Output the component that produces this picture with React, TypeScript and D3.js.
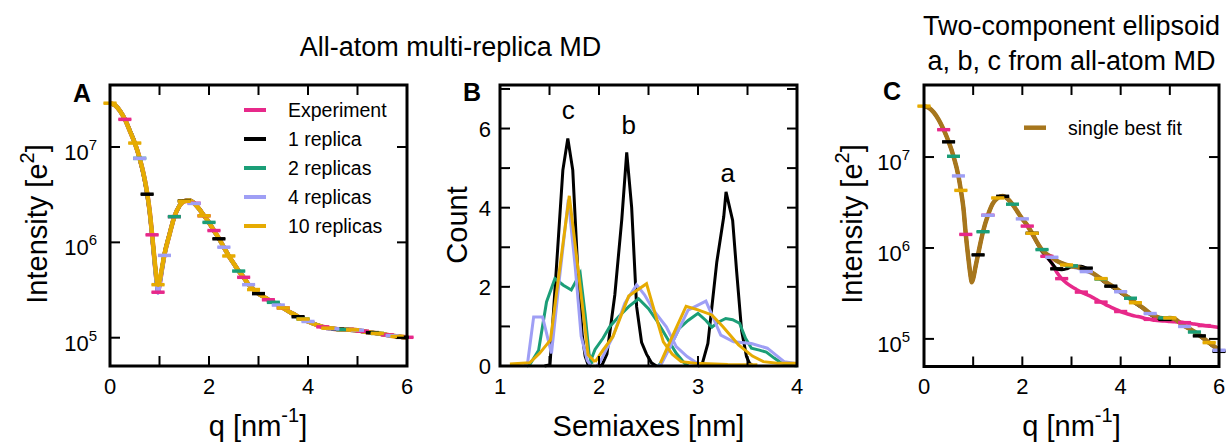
import React from "react";
import * as d3 from "d3";

// ---------- DATA ----------
const qGrid = [0, 0.1, 0.2, 0.3, 0.4, 0.5, 0.6, 0.7, 0.75, 0.8, 0.85, 0.9, 0.95, 0.97, 1.0, 1.05, 1.1, 1.2, 1.3, 1.4, 1.5, 1.6, 1.7, 1.8, 1.9, 2.0,
  2.1, 2.2, 2.3, 2.4, 2.5, 2.6, 2.7, 2.8, 2.9, 3.0, 3.1, 3.2, 3.3, 3.4, 3.5, 3.6, 3.7, 3.8, 3.9, 4.0,
  4.1, 4.2, 4.3, 4.4, 4.5, 4.6, 4.7, 4.8, 4.9, 5.0, 5.1, 5.2, 5.3, 5.4, 5.5, 5.6, 5.7, 5.8, 5.9, 6.0];

// Panel A: intensities
const expA = [2.88e7, 2.75e7, 2.40e7, 1.95e7, 1.48e7, 1.10e7, 7.6e6, 4.6e6, 3.3e6, 2.14e6, 1.2e6, 6.3e5, 3.55e5, 3.0e5, 3.55e5, 5.2e5, 7.4e5, 1.2e6, 1.86e6, 2.4e6, 2.7e6, 2.75e6, 2.57e6, 2.24e6, 1.9e6, 1.62e6,
  1.33e6, 1.10e6, 8.9e5, 7.2e5, 6.0e5, 5.0e5, 4.3e5, 3.6e5, 3.2e5, 2.9e5,
  2.7e5, 2.5e5, 2.35e5, 2.2e5, 2.05e5, 1.9e5, 1.78e5, 1.66e5, 1.57e5, 1.48e5,
  1.41e5, 1.35e5, 1.30e5, 1.26e5, 1.24e5, 1.23e5, 1.22e5, 1.22e5, 1.21e5, 1.20e5,
  1.17e5, 1.15e5, 1.13e5, 1.11e5, 1.09e5, 1.07e5, 1.05e5, 1.03e5, 1.02e5, 1.01e5];
const rep1A = [2.86e7, 2.74e7, 2.41e7, 1.96e7, 1.49e7, 1.11e7, 7.5e6, 4.5e6, 3.2e6, 2.1e6, 1.18e6, 6.4e5, 3.7e5, 3.2e5, 3.7e5, 5.3e5, 7.5e5, 1.21e6, 1.85e6, 2.4e6, 2.72e6, 2.76e6, 2.58e6, 2.25e6, 1.9e6, 1.61e6,
  1.32e6, 1.09e6, 8.9e5, 7.2e5, 6.0e5, 5.0e5, 4.3e5, 3.6e5, 3.2e5, 2.9e5,
  2.7e5, 2.5e5, 2.35e5, 2.2e5, 2.05e5, 1.9e5, 1.78e5, 1.66e5, 1.57e5, 1.48e5,
  1.41e5, 1.35e5, 1.30e5, 1.26e5, 1.24e5, 1.23e5, 1.22e5, 1.21e5, 1.20e5, 1.19e5,
  1.17e5, 1.15e5, 1.13e5, 1.11e5, 1.09e5, 1.07e5, 1.05e5, 1.03e5, 1.01e5, 1.0e5];
const rep2A = [2.87e7, 2.75e7, 2.40e7, 1.95e7, 1.48e7, 1.10e7, 7.6e6, 4.6e6, 3.3e6, 2.12e6, 1.19e6, 6.2e5, 3.5e5, 3.05e5, 3.6e5, 5.2e5, 7.4e5, 1.2e6, 1.86e6, 2.41e6, 2.71e6, 2.75e6, 2.57e6, 2.24e6, 1.9e6, 1.62e6,
  1.33e6, 1.10e6, 8.9e5, 7.2e5, 6.0e5, 5.0e5, 4.3e5, 3.6e5, 3.2e5, 2.9e5,
  2.7e5, 2.5e5, 2.35e5, 2.2e5, 2.05e5, 1.9e5, 1.78e5, 1.66e5, 1.57e5, 1.48e5,
  1.41e5, 1.35e5, 1.30e5, 1.26e5, 1.24e5, 1.23e5, 1.22e5, 1.22e5, 1.21e5, 1.20e5,
  1.17e5, 1.15e5, 1.13e5, 1.11e5, 1.09e5, 1.07e5, 1.05e5, 1.03e5, 1.02e5, 1.01e5];
const rep4A = [2.88e7, 2.75e7, 2.40e7, 1.95e7, 1.48e7, 1.10e7, 7.6e6, 4.6e6, 3.3e6, 2.13e6, 1.18e6, 6.2e5, 3.45e5, 2.95e5, 3.5e5, 5.1e5, 7.3e5, 1.19e6, 1.86e6, 2.4e6, 2.7e6, 2.74e6, 2.56e6, 2.24e6, 1.9e6, 1.62e6,
  1.33e6, 1.10e6, 8.9e5, 7.2e5, 6.0e5, 5.0e5, 4.3e5, 3.6e5, 3.2e5, 2.9e5,
  2.7e5, 2.5e5, 2.35e5, 2.2e5, 2.05e5, 1.9e5, 1.78e5, 1.66e5, 1.57e5, 1.48e5,
  1.41e5, 1.35e5, 1.30e5, 1.26e5, 1.24e5, 1.23e5, 1.22e5, 1.22e5, 1.21e5, 1.20e5,
  1.17e5, 1.15e5, 1.13e5, 1.11e5, 1.09e5, 1.07e5, 1.05e5, 1.03e5, 1.02e5, 1.01e5];
const rep10A = [2.88e7, 2.75e7, 2.40e7, 1.95e7, 1.48e7, 1.10e7, 7.6e6, 4.6e6, 3.3e6, 2.15e6, 1.22e6, 6.6e5, 3.9e5, 3.6e5, 3.9e5, 5.4e5, 7.5e5, 1.2e6, 1.86e6, 2.4e6, 2.7e6, 2.75e6, 2.57e6, 2.24e6, 1.9e6, 1.62e6,
  1.33e6, 1.10e6, 8.9e5, 7.2e5, 6.0e5, 5.0e5, 4.3e5, 3.6e5, 3.2e5, 2.9e5,
  2.7e5, 2.5e5, 2.35e5, 2.2e5, 2.05e5, 1.9e5, 1.78e5, 1.66e5, 1.57e5, 1.48e5,
  1.41e5, 1.35e5, 1.30e5, 1.26e5, 1.24e5, 1.23e5, 1.22e5, 1.22e5, 1.21e5, 1.20e5,
  1.17e5, 1.15e5, 1.13e5, 1.11e5, 1.09e5, 1.07e5, 1.05e5, 1.03e5, 1.02e5, 1.01e5];

// error-bar sample positions (q) in panel A
const markExpA = [0.3, 0.85, 0.97, 1.3, 1.7, 1.9, 2.1, 2.7, 3.2, 3.5, 4.3, 4.8, 5.1, 5.6, 6.0];
const markRep1A = [0.75, 1.5, 2.2, 3.0, 3.8, 4.6, 5.3, 5.9];
const markRep2A = [0.6, 1.3, 2.0, 2.6, 3.3, 3.9, 4.7, 5.4];
const markRep4A = [0.6, 1.1, 1.7, 2.3, 2.8, 3.4, 4.0, 4.5, 5.0, 5.7];
const markRep10A = [0.0, 0.5, 0.97, 1.5, 1.9, 2.4, 2.9, 3.5, 3.9, 4.4, 4.9, 5.4, 5.8];

// Panel C: intensities
const expC = [3.63e7, 3.47e7, 3.09e7, 2.57e7, 2.0e7, 1.48e7, 1.02e7, 6.2e6, 4.3e6, 2.8e6, 1.41e6, 7.9e5, 4.8e5, 4.2e5, 4.6e5, 6.3e5, 8.5e5, 1.51e6, 2.29e6, 3.09e6, 3.55e6, 3.72e6, 3.47e6, 3.02e6, 2.51e6, 2.09e6,
  1.74e6, 1.41e6, 1.15e6, 9.5e5, 8.1e5, 6.8e5, 5.4e5, 4.6e5, 4.1e5, 3.76e5,
  3.5e5, 3.27e5, 3.09e5, 2.92e5, 2.72e5, 2.54e5, 2.37e5, 2.24e5, 2.11e5, 2.0e5,
  1.91e5, 1.84e5, 1.78e5, 1.74e5, 1.68e5, 1.64e5, 1.60e5, 1.58e5, 1.57e5, 1.55e5,
  1.54e5, 1.53e5, 1.51e5, 1.48e5, 1.46e5, 1.43e5, 1.40e5, 1.38e5, 1.36e5, 1.33e5];
const rep1C = [3.62e7, 3.46e7, 3.08e7, 2.56e7, 2.0e7, 1.47e7, 1.01e7, 6.1e6, 4.3e6, 2.8e6, 1.43e6, 8.0e5, 4.9e5, 4.2e5, 4.6e5, 6.2e5, 8.4e5, 1.5e6, 2.28e6, 3.08e6, 3.55e6, 3.7e6, 3.45e6, 3.0e6, 2.5e6, 2.09e6,
  1.78e6, 1.45e6, 1.13e6, 9.1e5, 7.9e5, 6.8e5, 5.9e5, 5.75e5, 5.9e5, 6.2e5,
  6.3e5, 6.3e5, 6.0e5, 5.5e5, 5.0e5, 4.5e5, 4.1e5, 3.8e5, 3.5e5, 3.2e5,
  2.95e5, 2.7e5, 2.45e5, 2.25e5, 2.05e5, 1.85e5, 1.72e5, 1.65e5, 1.64e5, 1.66e5,
  1.63e5, 1.5e5, 1.38e5, 1.28e5, 1.18e5, 1.08e5, 9.8e4, 8.9e4, 8.1e4, 7.3e4];
const rep2C = [3.63e7, 3.47e7, 3.09e7, 2.57e7, 2.0e7, 1.48e7, 1.02e7, 6.2e6, 4.3e6, 2.8e6, 1.42e6, 8.0e5, 4.85e5, 4.2e5, 4.6e5, 6.3e5, 8.5e5, 1.51e6, 2.3e6, 3.1e6, 3.56e6, 3.72e6, 3.48e6, 3.03e6, 2.52e6, 2.1e6,
  1.79e6, 1.46e6, 1.16e6, 9.6e5, 8.6e5, 8.0e5, 7.3e5, 6.8e5, 6.5e5, 6.35e5,
  6.2e5, 6.0e5, 5.7e5, 5.35e5, 4.95e5, 4.55e5, 4.2e5, 3.9e5, 3.6e5, 3.35e5,
  3.05e5, 2.8e5, 2.55e5, 2.33e5, 2.12e5, 1.92e5, 1.8e5, 1.72e5, 1.7e5, 1.71e5,
  1.66e5, 1.52e5, 1.39e5, 1.29e5, 1.19e5, 1.1e5, 1.0e5, 9.1e4, 8.3e4, 7.6e4];
const rep4C = [3.63e7, 3.47e7, 3.09e7, 2.57e7, 2.0e7, 1.48e7, 1.02e7, 6.2e6, 4.3e6, 2.8e6, 1.41e6, 7.9e5, 4.8e5, 4.2e5, 4.6e5, 6.3e5, 8.5e5, 1.51e6, 2.29e6, 3.09e6, 3.55e6, 3.72e6, 3.47e6, 3.02e6, 2.51e6, 2.09e6,
  1.77e6, 1.44e6, 1.15e6, 9.6e5, 8.6e5, 7.9e5, 7.3e5, 6.9e5, 6.5e5, 6.2e5,
  6.0e5, 5.8e5, 5.5e5, 5.25e5, 4.9e5, 4.55e5, 4.2e5, 3.9e5, 3.6e5, 3.3e5,
  3.0e5, 2.75e5, 2.5e5, 2.3e5, 2.1e5, 1.9e5, 1.78e5, 1.7e5, 1.68e5, 1.7e5,
  1.65e5, 1.5e5, 1.37e5, 1.28e5, 1.19e5, 1.1e5, 1.0e5, 9.1e4, 8.2e4, 7.5e4];
const rep10C = [3.63e7, 3.47e7, 3.09e7, 2.57e7, 2.0e7, 1.48e7, 1.02e7, 6.2e6, 4.3e6, 2.8e6, 1.41e6, 7.9e5, 4.8e5, 4.2e5, 4.6e5, 6.3e5, 8.5e5, 1.51e6, 2.29e6, 3.09e6, 3.55e6, 3.72e6, 3.47e6, 3.02e6, 2.51e6, 2.09e6,
  1.78e6, 1.45e6, 1.15e6, 9.5e5, 8.5e5, 7.9e5, 7.2e5, 6.8e5, 6.5e5, 6.3e5,
  6.2e5, 6.0e5, 5.75e5, 5.4e5, 5.0e5, 4.6e5, 4.2e5, 3.9e5, 3.6e5, 3.3e5,
  3.0e5, 2.75e5, 2.5e5, 2.3e5, 2.1e5, 1.9e5, 1.78e5, 1.7e5, 1.68e5, 1.7e5,
  1.66e5, 1.51e5, 1.38e5, 1.29e5, 1.2e5, 1.1e5, 1.0e5, 9.1e4, 8.3e4, 7.6e4];
const fitC = [3.63e7, 3.47e7, 3.09e7, 2.57e7, 2.0e7, 1.48e7, 1.02e7, 6.2e6, 4.3e6, 2.8e6, 1.41e6, 7.9e5, 4.8e5, 4.2e5, 4.6e5, 6.3e5, 8.5e5, 1.51e6, 2.29e6, 3.09e6, 3.55e6, 3.72e6, 3.47e6, 3.02e6, 2.51e6, 2.09e6,
  1.78e6, 1.45e6, 1.15e6, 9.5e5, 8.5e5, 7.9e5, 7.2e5, 6.8e5, 6.5e5, 6.3e5,
  6.2e5, 6.0e5, 5.75e5, 5.4e5, 5.0e5, 4.6e5, 4.2e5, 3.9e5, 3.6e5, 3.3e5,
  3.0e5, 2.75e5, 2.5e5, 2.3e5, 2.1e5, 1.9e5, 1.78e5, 1.7e5, 1.68e5, 1.7e5,
  1.66e5, 1.51e5, 1.38e5, 1.29e5, 1.2e5, 1.1e5, 1.0e5, 9.1e4, 8.3e4, 7.6e4];

const markExpC = [0.4, 0.85, 1.3, 2.1, 2.5, 2.8, 3.2, 3.6, 4.0, 4.6, 5.3, 5.7];
const markRep1C = [0.5, 1.1, 1.6, 2.2, 2.7, 3.3, 3.8, 4.9, 5.6, 6.0];
const markRep2C = [0.6, 1.2, 1.8, 2.4, 3.0, 3.6, 4.2, 4.9, 5.5];
const markRep4C = [0.7, 1.3, 2.0, 2.6, 3.3, 4.0, 4.6, 5.3, 6.0];
const markRep10C = [0.0, 0.75, 1.5, 2.2, 2.9, 3.6, 4.3, 5.0, 5.8];
const errFrac = 0.012;

// Panel B: semiaxis histograms [semiaxis nm, count]
const rep1_c = [[1.45, 0], [1.505, 0.03], [1.635, 4.95], [1.685, 5.75], [1.735, 4.95], [1.79, 2.2], [1.83, 0.8], [1.86, 0.25], [1.89, 0.03], [1.92, 0]];
const rep1_b = [[2.0, 0], [2.03, 0.02], [2.08, 0.3], [2.16, 1.8], [2.23, 3.7], [2.28, 5.4], [2.33, 4.0], [2.38, 1.5], [2.43, 0.6], [2.48, 0.3], [2.53, 0.08], [2.58, 0]];
const rep1_a = [[3.0, 0], [3.04, 0.03], [3.1, 0.57], [3.19, 2.63], [3.26, 3.77], [3.283, 4.4], [3.35, 3.68], [3.39, 2.4], [3.44, 0.9], [3.49, 0.24], [3.52, 0.07], [3.56, 0]];
const rep2_c = [[1.27, 0], [1.3, 0.03], [1.39, 0.4], [1.47, 1.62], [1.555, 2.21], [1.64, 2.04], [1.72, 1.92], [1.81, 2.34], [1.86, 1.3], [1.9, 0.3], [1.93, 0.05]];
const rep2_b = [[1.9, 0.03], [1.96, 0.42], [2.04, 0.7], [2.11, 1.0], [2.2, 1.25], [2.3, 1.5], [2.4, 1.7], [2.5, 1.45], [2.58, 1.16], [2.68, 0.74], [2.78, 0.32], [2.86, 0.08], [2.9, 0]];
const rep2_a = [[2.6, 0], [2.63, 0.1], [2.72, 0.5], [2.81, 0.95], [2.9, 1.15], [3.0, 1.33], [3.08, 1.15], [3.14, 0.98], [3.2, 1.1], [3.28, 1.2], [3.35, 1.17], [3.42, 1.08], [3.48, 0.7], [3.54, 0.45], [3.62, 0.4], [3.69, 0.35], [3.77, 0.2], [3.84, 0.08], [3.95, 0.02], [4.0, 0]];
const rep4_c = [[1.25, 0], [1.28, 0.1], [1.34, 1.24], [1.43, 1.24], [1.52, 0.32], [1.6, 2.2], [1.69, 4.2], [1.76, 2.5], [1.82, 0.75], [1.88, 0.15], [1.92, 0]];
const rep4_b = [[1.98, 0], [2.01, 0.1], [2.14, 0.74], [2.26, 1.58], [2.38, 2.05], [2.46, 1.8], [2.55, 1.41], [2.68, 0.99], [2.78, 0.49], [2.89, 0.24], [2.99, 0.07], [3.02, 0]];
const rep4_a = [[2.6, 0], [2.63, 0.05], [2.77, 0.74], [2.9, 1.41], [3.08, 1.64], [3.23, 0.78], [3.36, 0.61], [3.54, 0.57], [3.7, 0.45], [3.87, 0.11], [3.97, 0.07], [4.0, 0.05]];
const rep10_c = [[1.1, 0.05], [1.3, 0.08], [1.4, 0.32], [1.51, 0.66], [1.6, 2.4], [1.7, 4.3], [1.81, 2.0], [1.89, 0.28], [1.96, 0.1]];
const rep10_b = [[1.96, 0.1], [2.04, 0.4], [2.14, 0.74], [2.3, 1.77], [2.48, 2.08], [2.57, 1.3], [2.65, 0.61], [2.74, 0.3], [2.83, 0.11], [2.97, 0.07], [3.3, 0.04], [3.6, 0.03]];
const rep10_a = [[2.62, 0.07], [2.75, 0.8], [2.88, 1.51], [3.0, 1.42], [3.14, 1.29], [3.25, 1.0], [3.41, 0.53], [3.55, 0.25], [3.66, 0.11], [3.8, 0.07], [4.0, 0.07]];

const peakLabels = [["c", 1.69, 6.25], ["b", 2.30, 5.87], ["a", 3.30, 4.64]];

const legendA = ["Experiment", "1 replica", "2 replicas", "4 replicas", "10 replicas"];
const legendC = ["single best fit"];

const qTicks = [0, 1, 2, 3, 4, 5, 6];
const qTickLabels = [0, 2, 4, 6];
const logTicks = [1e5, 1e6, 1e7];
const sTicks = [1, 1.5, 2, 2.5, 3, 3.5, 4];
const sTickLabels = [1, 2, 3, 4];
const cTicks = [0, 1, 2, 3, 4, 5, 6, 7];
const cTickLabels = [0, 2, 4, 6];

// ---------- STYLE ----------
const PINK = "#e7298a";
const BLACK = "#000000";
const GREEN = "#1b9e77";
const LAV = "#9f9ff5";
const ORANGE = "#e6ab02";
const BROWN = "#a6761d";
const FONT = "'Liberation Sans', Arial, Helvetica, sans-serif";

function nearestIdx(q: number) {
  let best = 0;
  for (let i = 1; i < qGrid.length; i++) {
    if (Math.abs(qGrid[i] - q) < Math.abs(qGrid[best] - q)) best = i;
  }
  return best;
}

type Box = { x0: number; x1: number; y0: number; y1: number };

function Frame({ b, xt, yt }: { b: Box; xt: number[]; yt: number[] }) {
  const L = 10;
  return (
    <g stroke="#000" strokeWidth={2} fill="none">
      {xt.map((px, i) => (
        <g key={"x" + i}>
          <line x1={px} x2={px} y1={b.y1} y2={b.y1 - L} />
          <line x1={px} x2={px} y1={b.y0} y2={b.y0 + L} />
        </g>
      ))}
      {yt.map((py, i) => (
        <g key={"y" + i}>
          <line x1={b.x0} x2={b.x0 + L} y1={py} y2={py} />
          <line x1={b.x1} x2={b.x1 - L} y1={py} y2={py} />
        </g>
      ))}
      <rect x={b.x0} y={b.y0} width={b.x1 - b.x0} height={b.y1 - b.y0} strokeWidth={3} />
    </g>
  );
}

function LogPanel({ b, ymin, ymax, lines, marks, ylabX }: any) {
  const xs = d3.scaleLinear().domain([0, 6]).range([b.x0, b.x1]);
  const ys = d3.scaleLog().domain([ymin, ymax]).range([b.y1, b.y0]);
  const line = d3.line<number>()
    .x((_, i) => xs(qGrid[i]))
    .y((d) => ys(d))
    .curve(d3.curveMonotoneX);
  return (
    <g>
      {lines.map((s: any, i: number) => (
        <path key={i} d={line(s.data) || ""} fill="none" stroke={s.color} strokeWidth={s.w} strokeLinejoin="round" />
      ))}
      {marks.map((m: any, i: number) => (
        <g key={i} stroke={m.color} strokeWidth={2.5}>
          {m.qs.map((q: number, j: number) => {
            const k = nearestIdx(q);
            const v = m.data[k];
            const px = xs(qGrid[k]);
            return (
              <g key={j}>
                <line x1={px - 6.5} x2={px + 6.5} y1={ys(v * (1 + errFrac))} y2={ys(v * (1 + errFrac))} />
                <line x1={px - 6.5} x2={px + 6.5} y1={ys(v * (1 - errFrac))} y2={ys(v * (1 - errFrac))} />
              </g>
            );
          })}
        </g>
      ))}
      <Frame b={b} xt={qTicks.map((t) => xs(t))} yt={logTicks.map((t) => ys(t))} />
      {qTickLabels.map((t) => (
        <text key={t} x={xs(t)} y={394} textAnchor="middle" fontSize={22}>{t}</text>
      ))}
      {logTicks.map((t) => (
        <text key={t} x={ylabX} y={ys(t) + 13} textAnchor="end" fontSize={22}>
          10<tspan dy={-10} fontSize={15}>{Math.round(Math.log10(t))}</tspan>
        </text>
      ))}
    </g>
  );
}

function HistPanel({ b }: { b: Box }) {
  const xs = d3.scaleLinear().domain([1, 4]).range([b.x0, b.x1]);
  const ys = d3.scaleLinear().domain([0, 7.1]).range([b.y1, b.y0]);
  const line = d3.line<number[]>().x((d) => xs(d[0])).y((d) => ys(d[1]));
  const groups = [
    { color: BLACK, parts: [rep1_c, rep1_b, rep1_a] },
    { color: GREEN, parts: [rep2_c, rep2_b, rep2_a] },
    { color: LAV, parts: [rep4_c, rep4_b, rep4_a] },
    { color: ORANGE, parts: [rep10_c, rep10_b, rep10_a] },
  ];
  return (
    <g>
      {groups.map((g, i) => (
        <g key={i}>
          {g.parts.map((p, j) => (
            <path key={j} d={line(p as number[][]) || ""} fill="none" stroke={g.color} strokeWidth={3} />
          ))}
        </g>
      ))}
      {peakLabels.map(([t, s, c]) => (
        <text key={t as string} x={xs(s as number)} y={ys(c as number)} textAnchor="middle" fontSize={26}>{t}</text>
      ))}
      <Frame b={b} xt={sTicks.map((t) => xs(t))} yt={cTicks.map((t) => ys(t))} />
      {sTickLabels.map((t) => (
        <text key={t} x={xs(t)} y={394} textAnchor="middle" fontSize={22}>{t}</text>
      ))}
      {cTickLabels.map((t) => (
        <text key={t} x={b.x0 - 9} y={ys(t) + 8} textAnchor="end" fontSize={22}>{t}</text>
      ))}
    </g>
  );
}

export default function App() {
  const bA: Box = { x0: 110, x1: 407, y0: 85, y1: 366 };
  const bB: Box = { x0: 500, x1: 797, y0: 85, y1: 366 };
  const bC: Box = { x0: 924, x1: 1219, y0: 85, y1: 366.5 };
  const linesA = [
    { data: expA, color: PINK, w: 4.5 },
    { data: rep1A, color: BLACK, w: 4 },
    { data: rep2A, color: GREEN, w: 4 },
    { data: rep4A, color: LAV, w: 4 },
    { data: rep10A, color: ORANGE, w: 4.5 },
  ];
  const marksA = [
    { data: expA, qs: markExpA, color: PINK },
    { data: rep1A, qs: markRep1A, color: BLACK },
    { data: rep2A, qs: markRep2A, color: GREEN },
    { data: rep4A, qs: markRep4A, color: LAV },
    { data: rep10A, qs: markRep10A, color: ORANGE },
  ];
  const linesC = [
    { data: expC, color: PINK, w: 3.5 },
    { data: rep1C, color: BLACK, w: 3 },
    { data: rep2C, color: GREEN, w: 3 },
    { data: rep4C, color: LAV, w: 3 },
    { data: rep10C, color: ORANGE, w: 3.5 },
    { data: fitC, color: BROWN, w: 4.5 },
  ];
  const marksC = [
    { data: expC, qs: markExpC, color: PINK },
    { data: rep1C, qs: markRep1C, color: BLACK },
    { data: rep2C, qs: markRep2C, color: GREEN },
    { data: rep4C, qs: markRep4C, color: LAV },
    { data: rep10C, qs: markRep10C, color: ORANGE },
  ];
  const legColors = [PINK, BLACK, GREEN, LAV, ORANGE];
  return (
    <svg width={1229} height={445} style={{ position: "absolute", left: 0, top: 0, background: "#fff" }} fontFamily={FONT}>
      <rect x={0} y={0} width={1229} height={445} fill="#fff" />
      {/* titles */}
      <text x={450.5} y={56} textAnchor="middle" fontSize={27}>All-atom multi-replica MD</text>
      <text x={1071.5} y={35} textAnchor="middle" fontSize={27}>Two-component ellipsoid</text>
      <text x={1071.5} y={70} textAnchor="middle" fontSize={27}>a, b, c from all-atom MD</text>

      {/* panel letters */}
      <text x={73} y={102} fontSize={25} fontWeight="bold">A</text>
      <text x={463} y={101} fontSize={25} fontWeight="bold">B</text>
      <text x={883} y={100} fontSize={25} fontWeight="bold">C</text>

      <LogPanel b={bA} ymin={5.05e4} ymax={4.47e7} lines={linesA} marks={marksA} ylabX={97} />
      <HistPanel b={bB} />
      <LogPanel b={bC} ymin={4.97e4} ymax={6.2e7} lines={linesC} marks={marksC} ylabX={910} />

      {/* legend A */}
      {legendA.map((t, i) => (
        <g key={t}>
          <line x1={244} x2={266} y1={110 + i * 29} y2={110 + i * 29} stroke={legColors[i]} strokeWidth={4} />
          <text x={288} y={110 + i * 29 + 7} fontSize={19.5}>{t}</text>
        </g>
      ))}
      {/* legend C */}
      <line x1={1024} x2={1046} y1={127.7} y2={127.7} stroke={BROWN} strokeWidth={4.5} />
      <text x={1068} y={134.7} fontSize={19.5}>{legendC[0]}</text>

      {/* axis labels */}
      <text transform="translate(47,224) rotate(-90)" textAnchor="middle" fontSize={29}>
        Intensity [e<tspan dy={-13} fontSize={20}>2</tspan><tspan dy={13}>]</tspan>
      </text>
      <text transform="translate(862,224) rotate(-90)" textAnchor="middle" fontSize={29}>
        Intensity [e<tspan dy={-13} fontSize={20}>2</tspan><tspan dy={13}>]</tspan>
      </text>
      <text transform="translate(467,225) rotate(-90)" textAnchor="middle" fontSize={29}>Count</text>
      <text x={258} y={436} textAnchor="middle" fontSize={29}>
        q [nm<tspan dy={-14} fontSize={20}>-1</tspan><tspan dy={14}>]</tspan>
      </text>
      <text x={1071.5} y={436} textAnchor="middle" fontSize={29}>
        q [nm<tspan dy={-14} fontSize={20}>-1</tspan><tspan dy={14}>]</tspan>
      </text>
      <text x={648.5} y={436} textAnchor="middle" fontSize={29}>Semiaxes [nm]</text>
    </svg>
  );
}
